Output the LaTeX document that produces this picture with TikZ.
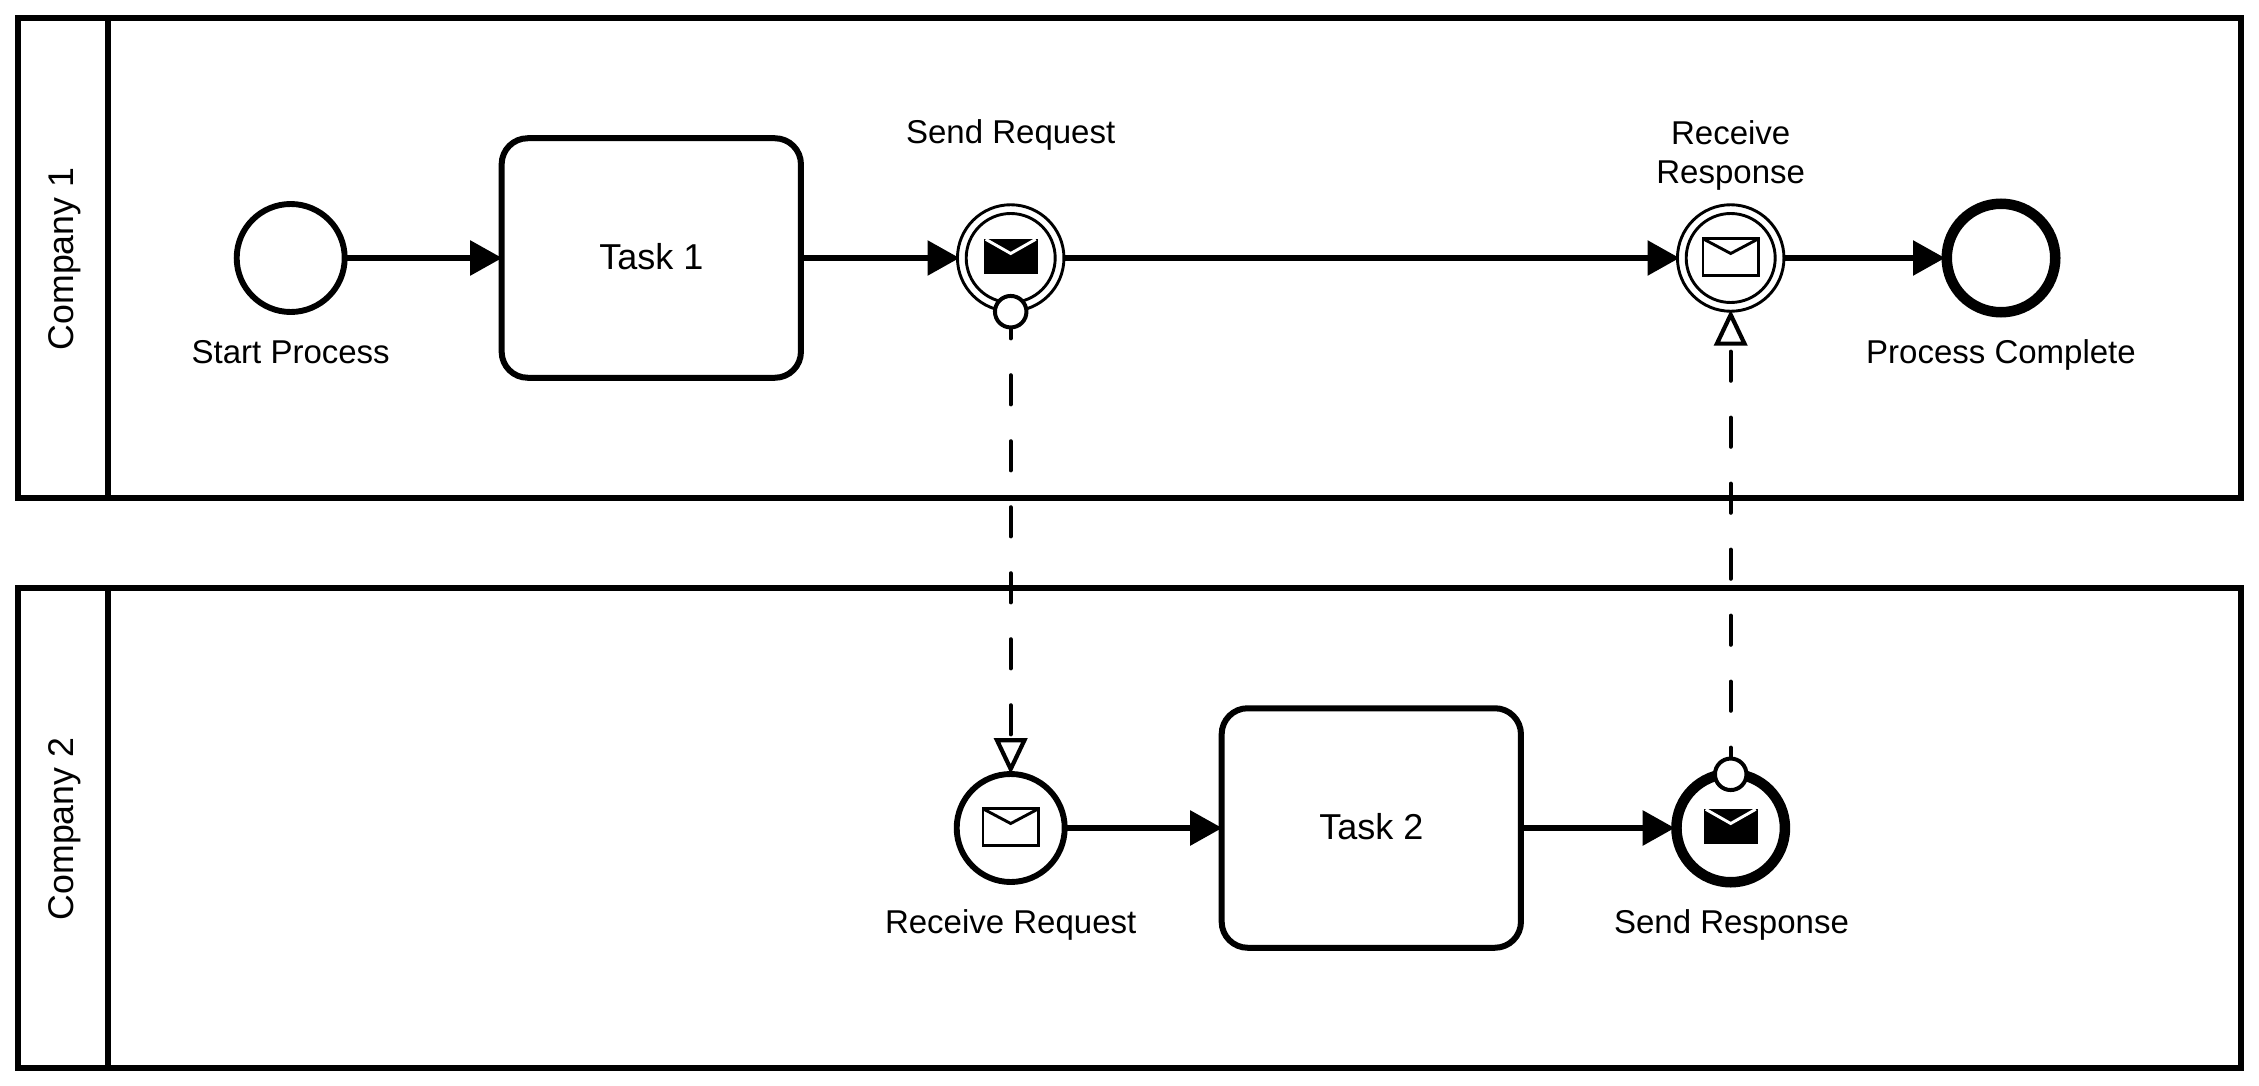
\documentclass[tikz,border=0pt]{standalone}
\usepackage{fontspec}
\setmainfont{Liberation Sans}
\usetikzlibrary{arrows.meta}
\tikzset{
  flow/.style={line width=5.7pt,shorten >=-3.5pt,shorten <=-1pt,-{Triangle[length=32pt,width=34pt]}},
  msgflow/.style={line width=4.2pt,line cap=round,dash pattern=on 29pt off 37pt,dash phase=2.4pt,shorten >=-3pt},
  openhead/.style={-{Triangle[open,fill=white,length=36pt,width=33pt,line width=4.2pt,line cap=butt]}},
  poolbox/.style={draw,line width=6pt,fill=white,minimum width=2223pt,minimum height=480pt,inner sep=0pt},
  lanename/.style={rotate=90,font=\fontsize{35.7}{40}\selectfont,inner sep=0pt},
  taskbox/.style={draw,line width=6pt,rounded corners=26pt,fill=white,minimum width=299.3pt,minimum height=239.5pt,inner sep=0pt,font=\fontsize{36}{40}\selectfont,text depth=3pt},
  ev/.style={circle,draw,fill=white,inner sep=0pt,minimum size=108pt,line width=5.9pt},
  evdouble/.style={circle,draw,fill=white,inner sep=0pt,minimum size=106.5pt,line width=2.9pt},
  evinner/.style={circle,draw,inner sep=0pt,minimum size=89pt,line width=2.9pt},
  evend/.style={circle,draw,fill=white,inner sep=0pt,minimum size=108.5pt,line width=10.5pt},
  dot/.style={circle,draw,fill=white,inner sep=0pt,minimum size=31.5pt,line width=4pt},
  lab/.style={font=\fontsize{33}{39}\selectfont,align=center,inner sep=0pt},
  envopen/.style={draw,fill=white,line width=2.9pt},
  envfull/.style={fill=black},
  chev/.style={draw=white,line width=2.9pt},
  chevopen/.style={draw,line width=2.9pt}
}
\newcommand{\envfilled}[1]{%
  \fill[envfull] ([shift={(-27pt,18.7pt)}]#1.center) rectangle ([shift={(27pt,-16.3pt)}]#1.center);
  \draw[chev] ([shift={(-25pt,18.7pt)}]#1.center) -- ([shift={(0pt,4.5pt)}]#1.center) -- ([shift={(25pt,18.7pt)}]#1.center);}
\newcommand{\envoutline}[1]{%
  \draw[envopen] ([shift={(-27.7pt,19.2pt)}]#1.center) rectangle ([shift={(27.7pt,-17.2pt)}]#1.center);
  \draw[chevopen] ([shift={(-27.7pt,19.2pt)}]#1.center) -- ([shift={(0pt,4.5pt)}]#1.center) -- ([shift={(27.7pt,19.2pt)}]#1.center);}
\begin{document}
\begin{tikzpicture}[x=1pt,y=-1pt]
\useasboundingbox (0,0) rectangle (2259,1086);
% pools
\node[poolbox] (pool1) at (1129.5,258) {};
\node[poolbox] (pool2) at (1129.5,828) {};
\coordinate (d1t) at (108,18);\coordinate (d1b) at (108,498);
\coordinate (d2t) at (108,588);\coordinate (d2b) at (108,1068);
\draw[line width=6pt] (d1t) -- (d1b);
\draw[line width=6pt] (d2t) -- (d2b);
\node[lanename] (c1) at (64.5,259) {Company 1};
\node[lanename] (c2) at (64.5,829) {Company 2};
% elements
\node[ev] (start) at (290.7,258) {};
\node[taskbox] (t1) at (651.3,258) {Task 1};
\node[evdouble] (send) at (1010.7,258) {};
\node[evinner] (sendi) at (1010.7,258) {};
\node[evdouble] (recv) at (1730.7,258) {};
\node[evinner] (recvi) at (1730.7,258) {};
\node[evend] (endev) at (2001,258) {};
\node[ev] (rr) at (1010.7,828) {};
\node[taskbox] (t2) at (1371.3,828) {Task 2};
\node[evend] (sr) at (1730.7,828) {};
% labels
\node[lab,anchor=base] (l1) at (290.7,363) {Start Process};
\node[lab,anchor=base] (l2) at (1010.7,144) {Send Request};
\node[lab,anchor=center] (l3) at (1730.7,155) {Receive\\Response};
\node[lab,anchor=base] (l4) at (2001,363) {Process Complete};
\node[lab,anchor=base] (l5) at (1010.7,933) {Receive Request};
\node[lab,anchor=base] (l6) at (1731.5,933) {Send Response};
% envelopes
\envfilled{send}
\envoutline{recv}
\envoutline{rr}
\envfilled{sr}
% flows
\draw[flow] (start) -- (t1);
\draw[flow] (t1) -- (send);
\draw[flow] (send) -- (recv);
\draw[flow] (recv) -- (endev);
\draw[flow] (rr) -- (t2);
\draw[flow] (t2) -- (sr);
% message flows
\coordinate (d1c) at (1010.7,311.7);
\coordinate (d2c) at (1730.7,774.3);
\draw[msgflow,openhead] (d1c) -- (rr);
\draw[msgflow,openhead] (d2c) -- (recv);
\node[dot] (d1) at (d1c) {};
\node[dot] (d2) at (d2c) {};
\end{tikzpicture}
\end{document}
